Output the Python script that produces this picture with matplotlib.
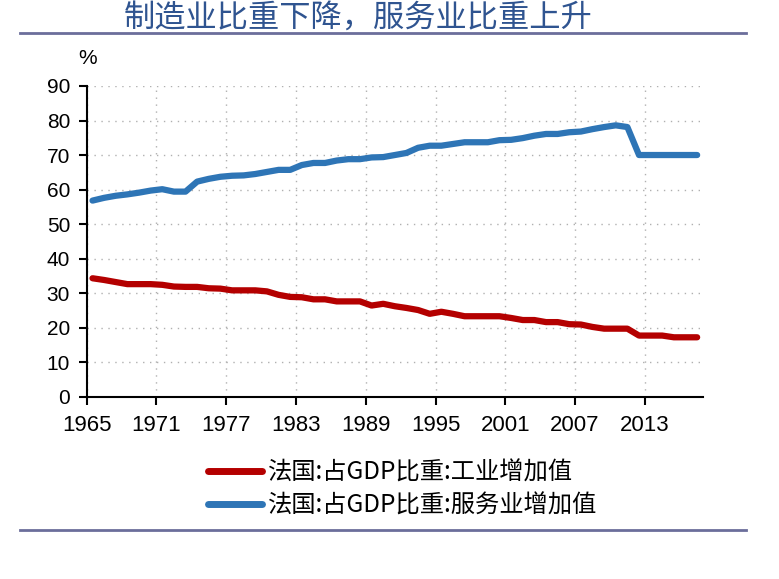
"""France: industry vs services share of GDP, 1965-2017."""
import numpy as np
import matplotlib
matplotlib.use("Agg")
import matplotlib.pyplot as plt
from matplotlib import font_manager as fm
from matplotlib.lines import Line2D

years = list(range(1965, 2018))
industry = [34.3, 33.8, 33.2, 32.6, 32.6, 32.6, 32.4, 31.9, 31.8, 31.8,
            31.4, 31.3, 30.8, 30.8, 30.8, 30.5, 29.5, 28.9, 28.8, 28.2,
            28.2, 27.6, 27.6, 27.6, 26.4, 26.9, 26.2, 25.7, 25.1, 24.0,
            24.6, 24.0, 23.3, 23.3, 23.3, 23.3, 22.8, 22.2, 22.2, 21.6,
            21.6, 21.0, 20.9, 20.2, 19.7, 19.7, 19.7, 17.7, 17.7, 17.7,
            17.2, 17.2, 17.2]
services = [56.8, 57.6, 58.2, 58.6, 59.1, 59.7, 60.1, 59.4, 59.4, 62.3,
            63.1, 63.7, 64.0, 64.1, 64.5, 65.1, 65.7, 65.7, 67.1, 67.7,
            67.7, 68.4, 68.8, 68.8, 69.3, 69.4, 70.0, 70.6, 72.1, 72.7,
            72.7, 73.2, 73.7, 73.7, 73.7, 74.3, 74.4, 74.9, 75.6, 76.1,
            76.1, 76.6, 76.8, 77.5, 78.1, 78.6, 78.1, 70.0, 70.0, 70.0,
            70.0, 70.0, 70.0]
labels = ["法国:占GDP比重:工业增加值", "法国:占GDP比重:服务业增加值"]
title = "制造业比重下降，服务业比重上升"

RED, BLUE = "#B40000", "#2E75B6"
CJK = ["Noto Sans CJK SC", "DejaVu Sans"]

# pick the regular (not narrow) Liberation Sans file explicitly
lib = [f.fname for f in fm.fontManager.ttflist if f.fname.endswith("LiberationSans-Regular.ttf")]
def num_font(size):
    if lib:
        return fm.FontProperties(fname=lib[0], size=size)
    return fm.FontProperties(family="DejaVu Sans", size=size)

fig = plt.figure(figsize=(7.79, 5.79), dpi=100)
ax = fig.add_axes([0.1113, 0.3149, 0.7911, 0.5366])

# category axis: points sit in the middle of each year slot
idx = np.arange(len(years))
ax.plot(idx + 0.5, industry, color=RED, lw=4.5, solid_capstyle="round", solid_joinstyle="round")
ax.plot(idx + 0.5, services, color=BLUE, lw=4.5, solid_capstyle="round", solid_joinstyle="round")

ax.set_xlim(0, len(years))
ax.set_ylim(0, 90)
ax.set_xticks(idx[::6])
ax.set_xticklabels([str(y) for y in years[::6]])
ax.set_yticks(range(0, 91, 10))
ax.tick_params(length=6, width=1.5, direction="out", colors="black")
ax.tick_params(axis="x", pad=7)
ax.tick_params(axis="y", pad=6)
for t in ax.get_xticklabels():
    t.set_fontproperties(num_font(16))
for t in ax.get_yticklabels():
    t.set_fontproperties(num_font(15))
for s in ("top", "right"):
    ax.spines[s].set_visible(False)
for s in ("left", "bottom"):
    ax.spines[s].set_linewidth(1.5)
ax.grid(True, ls=(0, (1, 4)), color="#b0b0b0", lw=1)
ax.set_axisbelow(True)

fig.text(0.112, 0.899, "%", fontproperties=num_font(15), ha="center", va="center")

fig.text(0.46, 0.970, title, family=CJK, fontsize=22.5, color="#2F5490",
         ha="center", va="center")
fig.add_artist(Line2D([0.026, 0.957], [0.943, 0.943], color="#6B6E9B", lw=2))
fig.add_artist(Line2D([0.026, 0.957], [0.085, 0.085], color="#6B6E9B", lw=2))

handles = [Line2D([], [], color=RED, lw=5, solid_capstyle="round"),
           Line2D([], [], color=BLUE, lw=5, solid_capstyle="round")]
fig.legend(handles, labels, loc="center", bbox_to_anchor=(0.517, 0.155),
           frameon=False, prop={"family": CJK, "size": 17.5},
           handlelength=2.2, handletextpad=0.25, labelspacing=0.3, borderpad=0)

fig.savefig("out.png", dpi=100, facecolor="white")
